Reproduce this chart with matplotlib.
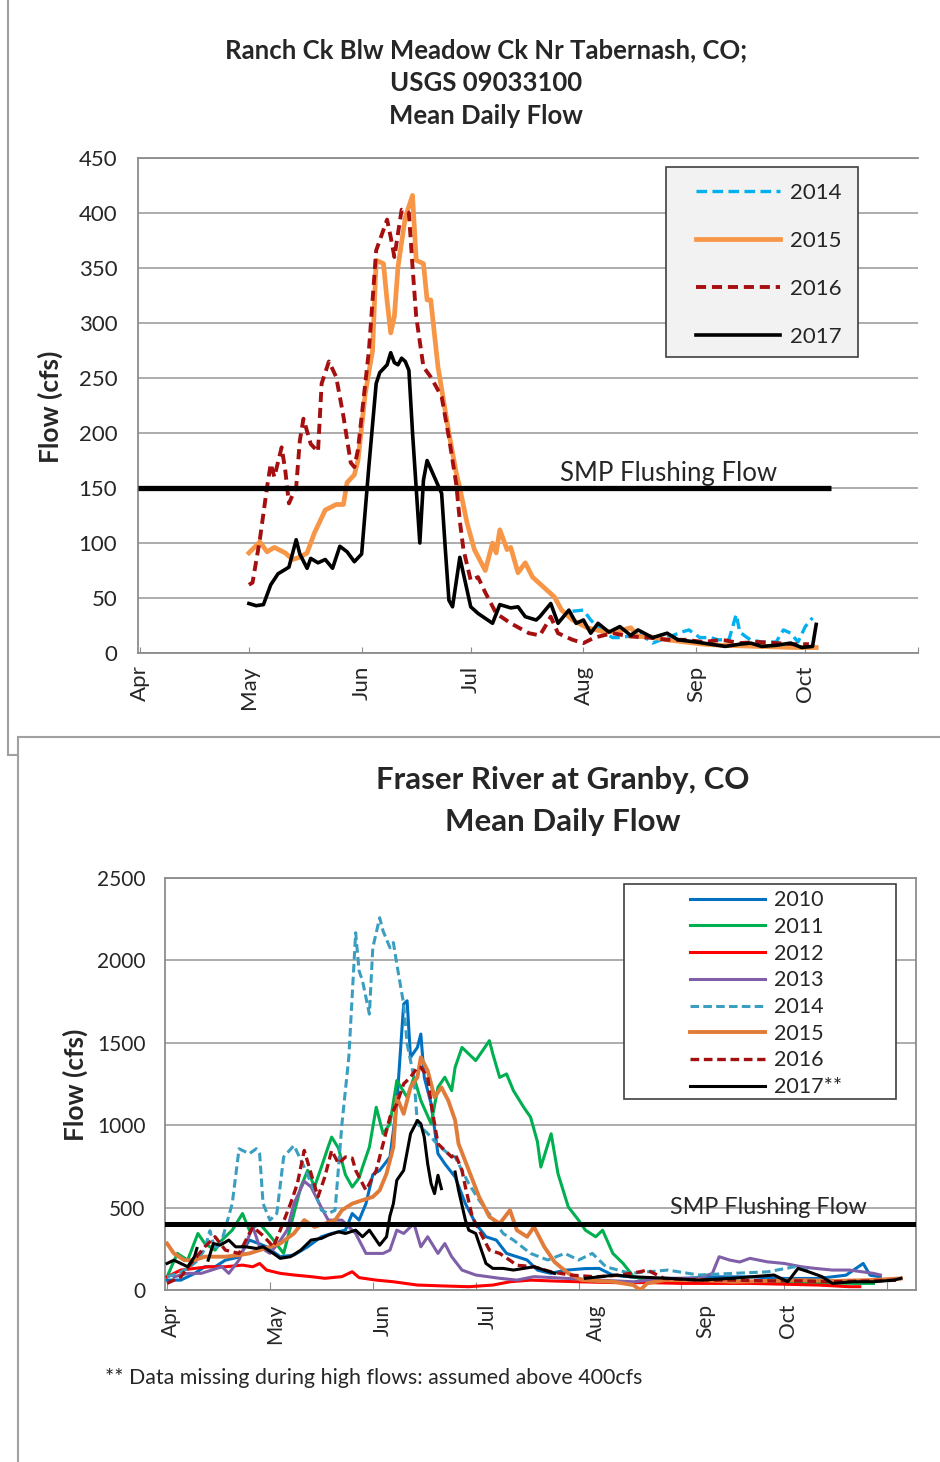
import numpy as np
import matplotlib
matplotlib.use("Agg")
import matplotlib.pyplot as plt
from matplotlib.patches import Rectangle

plt.rcParams['font.family'] = ['Lato', 'DejaVu Sans']

W, H = 940, 1462

# ---------------- Ranch Ck (days after Apr 1, cfs) ----------------
ranch_2014_day = [119, 122, 124, 127, 130, 132, 134, 137, 141, 145, 149, 151, 154, 157, 159, 162,
                  164, 165, 167, 168, 171, 175, 177, 179, 181, 183, 185]
ranch_2014_cfs = [38, 39, 30, 20, 14, 14, 15, 19, 9, 14, 19, 21, 14, 14, 12, 12,
                  35, 19, 14, 12, 10, 10, 21, 18, 10, 24, 32]

ranch_2015_day = [30, 33, 35, 37, 40, 42, 44, 46, 48, 51, 54, 56, 57, 59, 60, 62, 64, 65, 67, 68,
                  69, 70, 71, 73, 75, 76, 78, 79, 80, 82, 85, 87, 88, 90, 92, 95, 97, 98, 99, 101,
                  102, 104, 106, 108, 111, 114, 116, 119, 123, 128, 132, 135, 137, 140, 145, 150,
                  155, 160, 170, 180, 186]
ranch_2015_cfs = [91, 101, 92, 96, 91, 85, 87, 91, 109, 130, 135, 135, 155, 162, 175, 236, 275, 357,
                  354, 320, 291, 306, 351, 396, 416, 357, 354, 321, 321, 260, 200, 164, 150, 118,
                  94, 75, 100, 91, 112, 94, 96, 73, 82, 69, 60, 51, 39, 30, 23, 19, 20, 23, 15, 15,
                  12, 10, 8, 7, 6, 5, 5]

ranch_2016_day = [30, 31, 33, 35, 36, 37, 39, 40, 41, 43, 44, 45, 47, 49, 50, 52, 54, 56, 58, 59,
                  60, 63, 65, 68, 69, 70, 72, 74, 75, 76, 78, 80, 83, 85, 87, 88, 89, 91, 93, 95,
                  98, 102, 107, 110, 112, 113, 115, 119, 122, 125, 130, 135, 140, 145, 150, 155,
                  160, 165, 170, 175, 180, 184]
ranch_2016_cfs = [62, 64, 103, 151, 172, 160, 187, 166, 136, 151, 193, 213, 190, 183, 245, 265,
                  251, 215, 173, 169, 185, 275, 366, 394, 378, 360, 403, 400, 351, 306, 260, 251,
                  233, 196, 154, 120, 94, 66, 69, 55, 36, 27, 18, 16, 27, 33, 18, 12, 9, 14, 18,
                  15, 14, 12, 12, 10, 12, 9, 10, 9, 8, 8]

ranch_2017_day = [30, 32, 34, 36, 38, 40, 41, 43, 44, 46, 47, 49, 51, 53, 55, 57, 59, 61, 62, 63,
                  65, 66, 68, 69, 70, 71, 72, 73, 74, 75, 77, 78, 79, 81, 83, 84, 85, 86, 88, 91,
                  93, 97, 99, 102, 104, 106, 109, 110, 113, 115, 118, 120, 122, 124, 126, 129,
                  132, 135, 137, 141, 145, 148, 153, 157, 161, 165, 168, 171, 175, 179, 182, 185,
                  186]
ranch_2017_cfs = [45, 43, 44, 62, 72, 76, 78, 103, 90, 77, 86, 82, 85, 77, 97, 92, 83, 90, 130,
                  170, 245, 255, 262, 273, 264, 262, 268, 265, 257, 200, 100, 157, 175, 160, 145,
                  95, 48, 42, 87, 42, 36, 27, 44, 41, 42, 33, 30, 33, 45, 27, 39, 27, 30, 18, 27,
                  19, 24, 16, 21, 14, 18, 12, 10, 8, 6, 8, 9, 6, 7, 9, 5, 6, 26]

# ---------------- Fraser River (days after Apr 1, cfs); nan = gap ----------------
nan = np.nan
fraser_2010_day = [0, 4, 8, 11, 14, 17, 21, 24, 27, 29, 33, 37, 41, 45, 48, 52, 54, 56, 58, 60,
                   62, 65, 67, 69, 70, 71, 73, 74, 75, 77, 79, 81, 84, 87, 90, 93, 96, 99, 102,
                   105, 108, 110, 112, 116, 122, 126, 130, 135, 140, 150, 160, 170, 180, 190, 198,
                   203, 205, 208]
fraser_2010_cfs = [60, 60, 100, 141, 141, 181, 200, 303, 280, 262, 202, 212, 262, 323, 343, 363,
                   464, 424, 524, 700, 726, 807, 1130, 1735, 1755, 1412, 1472, 1553, 1291, 1130,
                   827, 766, 686, 524, 403, 323, 303, 222, 202, 182, 121, 110, 101, 120, 130, 131,
                   90, 80, 70, 70, 80, 80, 70, 70, 90, 161, 90, 80]

fraser_2011_day = [0, 3, 6, 9, 11, 14, 16, 19, 22, 24, 27, 30, 34, 39, 41, 43, 45, 47, 48, 50, 52,
                   54, 56, 57, 59, 61, 63, 65, 67, 70, 72, 74, 77, 79, 81, 83, 84, 86, 88, 90, 92,
                   94, 95, 97, 99, 101, 104, 106, 108, 109, 112, 114, 117, 120, 122, 125, 127, 130,
                   133, 136, 140, 150, 160, 170, 180, 190, 200, 206]
fraser_2011_cfs = [80, 222, 181, 343, 282, 242, 303, 363, 464, 363, 403, 330, 222, 625, 726, 625,
                   746, 870, 928, 860, 700, 625, 680, 746, 867, 1109, 948, 1009, 1271, 1170, 1291,
                   1150, 1009, 1230, 1291, 1210, 1351, 1472, 1432, 1392, 1452, 1513, 1432, 1290,
                   1311, 1210, 1109, 1049, 900, 746, 948, 706, 504, 424, 363, 323, 363, 222, 161,
                   81, 60, 60, 50, 50, 45, 45, 40, 40]

fraser_2012_day = [0, 4, 8, 12, 17, 22, 25, 27, 29, 33, 37, 42, 46, 51, 54, 56, 61, 66, 73, 80, 88,
                   95, 100, 106, 112, 120, 130, 140, 150, 160, 170, 180, 190, 199, 202]
fraser_2012_cfs = [80, 121, 131, 141, 141, 151, 141, 161, 121, 101, 91, 81, 71, 81, 111, 75, 60,
                   50, 30, 25, 20, 30, 50, 60, 55, 50, 45, 45, 40, 40, 40, 35, 30, 20, 20]

fraser_2013_day = [2, 6, 10, 13, 16, 18, 21, 25, 27, 30, 33, 35, 37, 40, 42, 45, 47, 51, 55, 58,
                   63, 65, 67, 69, 72, 74, 76, 79, 81, 83, 86, 90, 97, 102, 107, 116, 126, 136,
                   146, 155, 159, 161, 164, 167, 170, 175, 180, 185, 189, 194, 199, 206, 208]
fraser_2013_cfs = [80, 101, 101, 121, 141, 101, 182, 383, 262, 222, 300, 363, 524, 660, 625, 500,
                   424, 424, 343, 222, 222, 242, 363, 343, 403, 262, 323, 222, 282, 202, 121, 91,
                   71, 60, 81, 71, 60, 50, 71, 71, 100, 202, 182, 170, 192, 171, 161, 141, 131,
                   121, 121, 101, 91]

fraser_2014_day = [0, 3, 6, 9, 11, 12.5, 14, 16, 19, 21, 24, 26, 27, 28, 30, 32, 34, 37, 40, 43,
                   45, 47, 49, 51, 53, 55, 56, 57, 59, 60, 62, 63, 65, 66, 67, 69, 70, 72, 73, 76,
                   79, 82, 84, 88, 91, 94, 98, 101, 106, 111, 116, 120, 124, 128, 135, 140, 146,
                   155, 165, 175, 183, 188]
fraser_2014_cfs = [80, 100, 130, 180, 250, 360, 242, 300, 524, 857, 827, 857, 827, 524, 424, 464,
                   807, 877, 746, 600, 484, 464, 484, 1008, 1412, 2168, 1936, 1876, 1674, 2077,
                   2259, 2178, 2077, 2108, 1977, 1735, 1493, 1291, 1008, 950, 880, 827, 807, 645,
                   545, 460, 343, 303, 222, 182, 222, 182, 222, 141, 101, 110, 121, 91, 101, 110,
                   141, 110]

fraser_2015_day = [0, 2, 5, 8, 11, 17, 21, 24, 30, 33, 37, 40, 43, 46, 49, 51, 54, 57, 60, 62, 64,
                   66, 67, 69, 71, 73, 74, 76, 78, 80, 82, 84, 85, 88, 91, 94, 97, 100, 102, 105,
                   107, 110, 113, 117, 121, 130, 136, 138, 140, 145, 155, 165, 175, 185, 194, 205,
                   214]
fraser_2015_cfs = [282, 222, 181, 181, 202, 202, 212, 222, 262, 282, 343, 424, 383, 403, 424, 484,
                   524, 545, 565, 605, 706, 867, 1170, 1069, 1230, 1291, 1412, 1331, 1170, 1230,
                   1150, 1030, 887, 726, 565, 444, 403, 484, 363, 323, 383, 262, 170, 101, 60, 50,
                   30, 0, 40, 60, 60, 50, 55, 60, 55, 60, 70]

fraser_2016_day = [0, 4, 7, 11, 14, 17, 21, 25, 28, 31, 33, 36, 38, 40, 42, 44, 46, 48, 50, 52, 54,
                   55, 58, 61, 63, 65, 67, 69, 71, 73, 74, 76, 77, 79, 81, 83, 84, 86, 87, 89, 92,
                   94, 97, 100, 102, 107, 112, 118, 125, 132, 138, 140, 145, 155, 165, 175, 185,
                   194, 205, 214]
fraser_2016_cfs = [40, 80, 161, 262, 323, 242, 222, 383, 330, 262, 363, 524, 645, 847, 706, 565,
                   686, 847, 766, 807, 800, 726, 605, 726, 887, 1049, 1130, 1251, 1291, 1351, 1351,
                   1291, 1130, 887, 847, 807, 827, 726, 625, 444, 323, 242, 222, 180, 150, 141,
                   110, 90, 80, 90, 111, 121, 70, 60, 60, 55, 55, 50, 55, 60]

fraser_2017_day = [0, 2, 4, 6, 8, 8.7, 10, 12, 13.5, 15.5, 18, 20, 23, 26, 28, 31, 33, 36, 39, 42,
                   45, 47, 50, 52, 55, 57, 59, 62, 64, 65, 66, 67, 69, 71, 73, 74, 75, 76, 77, 78,
                   79, 80, 82, 84, 85, 87, 88, 90, 91, 93, 95, 98, 101, 104, 107, 110, 113, 118,
                   122, 131, 135, 146, 155, 165, 171, 177, 181, 184, 187, 191, 194, 200, 206, 212,
                   214]
fraser_2017_cfs = [161, 181, 161, 141, 202, 252, nan, 181, 282, 272, 303, 262, 262, 252, 262, 222,
                   192, 202, 242, 303, 313, 333, 353, 343, 363, 323, 363, 272, 323, 450, 524, 666,
                   726, 948, 1029, 1009, 928, 766, 645, 585, 696, 615, nan, 716, 605, 424, 363,
                   343, 282, 161, 131, 131, 121, 131, 141, 121, 101, nan, 71, 91, 81, 71, 60, 71,
                   81, 91, 50, 131, 111, 81, 40, 50, 50, 60, 71]

ranch_series = [
    ('2014', ranch_2014_day, ranch_2014_cfs, '#00b0f0', 2.4, (0, (3.2, 1.6))),
    ('2015', ranch_2015_day, ranch_2015_cfs, '#f79646', 3.4, '-'),
    ('2016', ranch_2016_day, ranch_2016_cfs, '#a50f0f', 2.8, (0, (2.6, 1.5))),
    ('2017', ranch_2017_day, ranch_2017_cfs, '#000000', 2.6, '-'),
]
fraser_series = [
    ('2010', fraser_2010_day, fraser_2010_cfs, '#0070c0', 2.2, '-'),
    ('2011', fraser_2011_day, fraser_2011_cfs, '#00b050', 2.2, '-'),
    ('2012', fraser_2012_day, fraser_2012_cfs, '#ff0000', 2.2, '-'),
    ('2013', fraser_2013_day, fraser_2013_cfs, '#7f5fa8', 2.2, '-'),
    ('2014', fraser_2014_day, fraser_2014_cfs, '#3a9ec0', 2.2, (0, (2.8, 1.4))),
    ('2015', fraser_2015_day, fraser_2015_cfs, '#e07b39', 2.8, '-'),
    ('2016', fraser_2016_day, fraser_2016_cfs, '#a50f0f', 2.4, (0, (2.6, 1.4))),
    ('2017**', fraser_2017_day, fraser_2017_cfs, '#000000', 2.2, '-'),
]

month_names = ['Apr', 'May', 'Jun', 'Jul', 'Aug', 'Sep', 'Oct']
month_start_days = [0, 30, 61, 91, 122, 153, 183]
fraser_label_days = [1, 31.5, 63, 93.5, 125, 157, 181]
smp_ranch = 150
smp_fraser = 400

GRID = '#a6a6a6'
SPINE = '#8c8c8c'
TXT = '#262626'


def axes_px(fig, left, top, right, bottom):
    return fig.add_axes([left / W, 1 - bottom / H, (right - left) / W, (bottom - top) / H])


fig = plt.figure(figsize=(W / 100, H / 100), dpi=100)

# panel frames
fig.patches.append(Rectangle((8 / W, 1 - 755 / H), 1.2, 1, transform=fig.transFigure,
                             facecolor='white', edgecolor='#a0a0a0', lw=1.5, zorder=-2))
fig.patches.append(Rectangle((18 / W, -0.1), 1.2, 0.1 + (1 - 737 / H), transform=fig.transFigure,
                             facecolor='white', edgecolor='#a0a0a0', lw=1.5, zorder=-1))

# ---------------- top chart ----------------
ax1 = axes_px(fig, 138, 158, 918, 653)
ax1.set_facecolor('none')
for name, d, v, c, lw, ls in ranch_series:
    ax1.plot(d, v, color=c, lw=lw, ls=ls, label=name, zorder=3)
ax1.plot([-0.5, 190], [smp_ranch, smp_ranch], color='black', lw=3.8, zorder=4,
         solid_capstyle='butt')
ax1.text(115.6, smp_ranch + 2, 'SMP Flushing Flow', fontsize=18.5, color=TXT, va='bottom',
         zorder=5)
ax1.set_xlim(-0.5, 214)
ax1.set_ylim(0, 450)
ax1.set_yticks(range(0, 451, 50))
ax1.yaxis.grid(True, color=GRID, lw=1.3, zorder=0)
ax1.set_axisbelow(True)
ax1.set_xticks(month_start_days + [214])
ax1.set_xticklabels(month_names + [''], rotation=90, fontsize=16, color=TXT)
ax1.tick_params(axis='x', direction='in', length=4.5, color=SPINE, pad=9)
ax1.tick_params(axis='y', length=0, pad=15, labelsize=16, labelcolor=TXT)
ax1.spines['right'].set_visible(False)
for s in ['left', 'bottom', 'top']:
    ax1.spines[s].set_color(SPINE)
    ax1.spines[s].set_linewidth(1.3)

ax1.add_patch(Rectangle((0.677, 0.598), 0.246, 0.384, transform=ax1.transAxes,
                        facecolor='#f2f2f2', edgecolor='#404040', lw=1.2, zorder=6))
leg1 = ax1.legend(loc='upper left', bbox_to_anchor=(0.715, 0.950), frameon=False, fontsize=16,
                  handlelength=3.8, handletextpad=0.45, labelspacing=1.26, borderpad=0,
                  borderaxespad=0)
leg1.set_zorder(7)
for t in leg1.get_texts():
    t.set_color(TXT)

fig.text(486 / W, 1 - 50 / H, 'Ranch Ck Blw Meadow Ck Nr Tabernash, CO;', ha='center',
         va='center', fontsize=18.5, fontweight='bold', color=TXT)
fig.text(486 / W, 1 - 83 / H, 'USGS 09033100', ha='center', va='center', fontsize=18.5,
         fontweight='bold', color=TXT)
fig.text(486 / W, 1 - 116 / H, 'Mean Daily Flow', ha='center', va='center', fontsize=18.5,
         fontweight='bold', color=TXT)
fig.text(50 / W, 1 - 407 / H, 'Flow (cfs)', rotation=90, ha='center', va='center', fontsize=19,
         fontweight='bold', color=TXT)

# ---------------- bottom chart ----------------
ax2 = axes_px(fig, 165, 878, 916, 1290)
ax2.set_facecolor('none')
for name, d, v, c, lw, ls in fraser_series:
    ax2.plot(d, v, color=c, lw=lw, ls=ls, label=name, zorder=3)
ax2.axhline(smp_fraser, color='black', lw=3.6, zorder=4)
ax2.text(146.6, 436, 'SMP Flushing Flow', fontsize=16.8, color=TXT, va='bottom', zorder=5)
ax2.set_xlim(-0.6, 218.4)
ax2.set_ylim(0, 2500)
ax2.set_yticks(range(0, 2501, 500))
ax2.yaxis.grid(True, color=GRID, lw=1.3, zorder=0)
ax2.set_axisbelow(True)
ax2.set_xticks(range(0, 211, 30))
ax2.set_xticklabels([])
ax2.set_xticks(fraser_label_days, month_names, minor=True)
ax2.tick_params(axis='x', which='major', direction='in', length=6, color=SPINE)
ax2.tick_params(axis='x', which='minor', length=0, pad=10, labelsize=15, labelcolor=TXT,
                labelrotation=90)
ax2.tick_params(axis='y', length=0, pad=14, labelsize=15, labelcolor=TXT)
for s in ax2.spines.values():
    s.set_color(SPINE)
    s.set_linewidth(1.3)

ax2.add_patch(Rectangle((0.611, 0.4636), 0.362, 0.522, transform=ax2.transAxes,
                        facecolor='white', edgecolor='#404040', lw=1.2, zorder=6))
leg2 = ax2.legend(loc='upper left', bbox_to_anchor=(0.699, 0.97), frameon=False, fontsize=15.5,
                  handlelength=3.5, handletextpad=0.4, labelspacing=0.31, borderpad=0,
                  borderaxespad=0)
leg2.set_zorder(7)
for t in leg2.get_texts():
    t.set_color(TXT)

fig.text(563 / W, 1 - 780 / H, 'Fraser River at Granby, CO', ha='center', va='center',
         fontsize=22.5, fontweight='bold', color=TXT)
fig.text(563 / W, 1 - 822 / H, 'Mean Daily Flow', ha='center', va='center', fontsize=22.5,
         fontweight='bold', color=TXT)
fig.text(75 / W, 1 - 1085 / H, 'Flow (cfs)', rotation=90, ha='center', va='center', fontsize=19,
         fontweight='bold', color=TXT)
fig.text(105 / W, 1 - 1378 / H, '** Data missing during high flows: assumed above 400cfs',
         ha='left', va='center', fontsize=15.4, color=TXT)

fig.savefig('out.png', dpi=100)
